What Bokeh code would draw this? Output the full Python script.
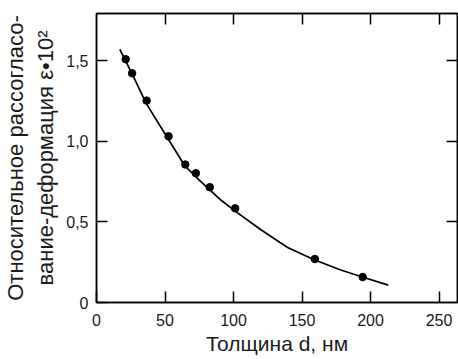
from bokeh.plotting import figure
from bokeh.models import LinearAxis, FixedTicker, Range1d
from bokeh.embed import file_html
from bokeh.resources import INLINE

# measured points
thickness = [21.3, 26.0, 36.6, 52.6, 64.8, 72.5, 82.7, 101.2, 159.4, 194.3]
strain = [1.511, 1.424, 1.254, 1.032, 0.857, 0.803, 0.716, 0.585, 0.270, 0.158]

# fitted curve
curve_x = [17, 26, 36.4, 52.2, 64.3, 75, 91, 100.7, 120, 139.5, 158.9, 178.3, 194, 213]
curve_y = [1.572, 1.42, 1.235, 1.017, 0.851, 0.76, 0.635, 0.571, 0.452, 0.342, 0.266, 0.202, 0.158, 0.108]

x_ticks = [0, 50, 100, 150, 200, 250]
y_ticks = [0, 0.5, 1.0, 1.5]
y_tick_labels = ["0", "0,5", "1,0", "1,5"]
x_title = "Толщина d, нм"
y_title = "Относительное рассогласо-\nвание-деформация ε•10²"

FONT = "Liberation Sans"
TXT = "#1a1a1a"

p = figure(width=458, height=359, output_backend="svg", toolbar_location=None,
           x_range=Range1d(0, 263.5), y_range=Range1d(0, 1.795),
           min_border_left=95, min_border_top=13, min_border_bottom=57, min_border_right=1)
p.grid.visible = False
p.outline_line_color = "black"
p.outline_line_width = 1.5
p.background_fill_color = "white"

p.line(curve_x, curve_y, line_color="black", line_width=1.7)
p.scatter(thickness, strain, size=7.5, color="black")

def style(ax, ticks, labels=True):
    ax.ticker = FixedTicker(ticks=ticks)
    ax.major_tick_in = 11
    ax.major_tick_out = 0
    ax.minor_tick_line_color = None
    ax.major_tick_line_width = 1.5
    ax.axis_line_width = 1.5
    ax.major_tick_line_color = "black"
    ax.axis_line_color = "black"
    ax.major_label_text_font = FONT
    ax.major_label_text_font_size = "16px"
    ax.major_label_text_color = TXT
    ax.axis_label_text_font = FONT
    ax.axis_label_text_font_style = "normal"
    ax.axis_label_text_color = TXT
    if not labels:
        ax.major_label_text_font_size = "0px"
        ax.major_label_standoff = 0
        ax.major_label_text_color = None

style(p.xaxis[0], x_ticks)
style(p.yaxis[0], y_ticks)
p.xaxis[0].major_label_standoff = 11
p.yaxis[0].major_label_standoff = 8
p.yaxis[0].major_label_overrides = {t: l for t, l in zip(y_ticks, y_tick_labels)}
p.xaxis[0].axis_label = x_title
p.xaxis[0].axis_label_text_font_size = "21px"
p.xaxis[0].axis_label_standoff = 3
p.yaxis[0].axis_label = y_title
p.yaxis[0].axis_label_text_font_size = "22px"
p.yaxis[0].axis_label_standoff = 5

top = LinearAxis()
style(top, [50, 100, 150, 200, 250], labels=False)
p.add_layout(top, "above")
right = LinearAxis()
style(right, [0.5, 1.0, 1.5], labels=False)
p.add_layout(right, "right")

open("out.html", "w").write(file_html(p, INLINE))
